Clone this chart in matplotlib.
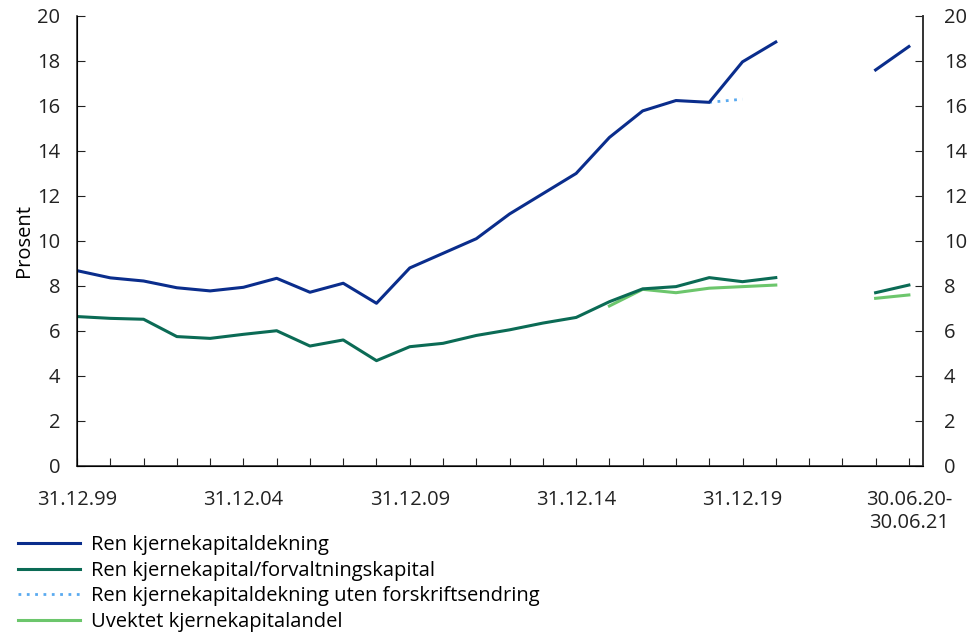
import numpy as np
import matplotlib
matplotlib.use("Agg")
import matplotlib.pyplot as plt
from matplotlib.lines import Line2D

plt.rcParams['font.family'] = ['Open Sans', 'DejaVu Sans']

nan = np.nan

# 31.12.99 .. 31.12.20 (annual), two empty slots, then 30.06.20 and 30.06.21
ren_kjerne = [8.68, 8.36, 8.22, 7.92, 7.78, 7.94, 8.34, 7.72, 8.12, 7.23,
              8.8, 9.45, 10.1, 11.2, 12.1, 13.0, 14.6, 15.78, 16.24, 16.16,
              17.96, 18.84, nan, nan, 17.6, 18.64]
ren_forv = [6.64, 6.56, 6.52, 5.75, 5.67, 5.85, 6.01, 5.33, 5.6, 4.68,
            5.3, 5.45, 5.8, 6.05, 6.35, 6.6, 7.3, 7.87, 7.97, 8.37,
            8.19, 8.37, nan, nan, 7.7, 8.04]
uten_endring = [nan] * 19 + [16.16, 16.3] + [nan] * 5
uvektet = [nan] * 16 + [7.11, 7.85, 7.7, 7.9, 7.97, 8.04, nan, nan, 7.45, 7.6]

tick_pos = [0, 5, 10, 15, 20, 25]
tick_labels = ['31.12.99', '31.12.04', '31.12.09', '31.12.14', '31.12.19', '30.06.20-\n30.06.21']

c_blue = '#0a2d8c'
c_green = '#0b6b55'
c_dot = '#5aaaf0'
c_light = '#6cc66c'
fs = 14.5

x = np.arange(len(ren_kjerne))

fig = plt.figure(figsize=(9.7, 6.37), dpi=100)
ax = fig.add_axes([0.0794, 0.2685, 0.872, 0.7065])

ax.plot(x, uten_endring, color=c_dot, lw=2, linestyle=(0, (1, 2)))
ax.plot(x, uvektet, color=c_light, lw=2.2)
ax.plot(x, ren_forv, color=c_green, lw=2.2)
ax.plot(x, ren_kjerne, color=c_blue, lw=2.2)

ax.set_xlim(0, 25.42)
ax.set_ylim(0, 20)
ax.set_yticks(range(0, 21, 2))
ax.set_xticks(range(0, 26))
ax.set_xticklabels([tick_labels[tick_pos.index(i)] if i in tick_pos else '' for i in range(26)],
                   linespacing=1.25)
ax.tick_params(axis='both', direction='in', length=6, labelsize=fs, colors='#222222')
ax.tick_params(axis='x', pad=17)
ax.tick_params(axis='y', pad=12)
ax.spines['top'].set_visible(False)
for s in ['left', 'right', 'bottom']:
    ax.spines[s].set_color('#333333')
    ax.spines[s].set_linewidth(1.2)
ax.set_ylabel('Prosent', fontsize=fs, labelpad=2)

ax2 = ax.twinx()
ax2.set_ylim(0, 20)
ax2.set_yticks(range(0, 21, 2))
ax2.tick_params(axis='y', direction='in', length=6, labelsize=fs, colors='#222222', pad=15)
ax2.spines['top'].set_visible(False)
ax2.spines['right'].set_color('#333333')
ax2.spines['right'].set_linewidth(1.2)

handles = [Line2D([], [], color=c_blue, lw=2.2),
           Line2D([], [], color=c_green, lw=2.2),
           Line2D([], [], color=c_dot, lw=2, linestyle=(0, (1, 2))),
           Line2D([], [], color=c_light, lw=2.2)]
names = ['Ren kjernekapitaldekning', 'Ren kjernekapital/forvaltningskapital',
         'Ren kjernekapitaldekning uten forskriftsendring', 'Uvektet kjernekapitalandel']
fig.legend(handles, names, loc='upper left', bbox_to_anchor=(0.0186, 0.16),
           frameon=False, fontsize=fs, handlelength=3.1, handletextpad=0.5,
           labelspacing=0.28, borderaxespad=0, borderpad=0)

fig.savefig('out.png', dpi=100)
